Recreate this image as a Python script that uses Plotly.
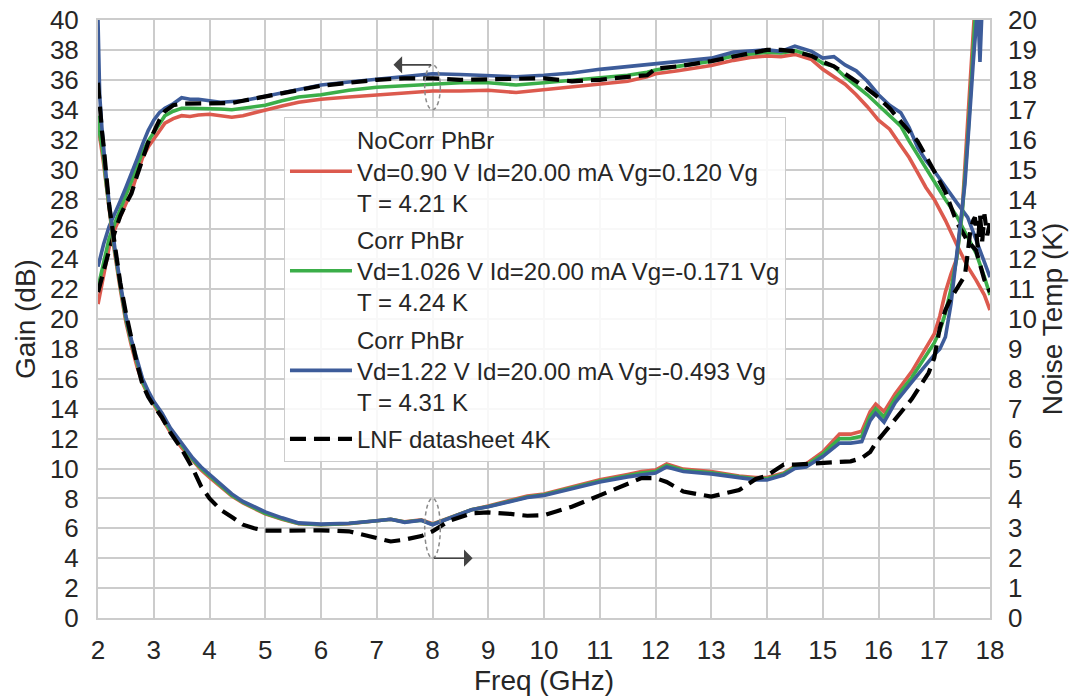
import plotly.graph_objects as go

# ---------------- data ----------------
freq_gain = [2.0, 2.1, 2.2, 2.3, 2.4, 2.5, 2.6, 2.7, 2.8, 2.9, 3.0, 3.1, 3.2, 3.35, 3.5,
             3.65, 3.8, 4.0, 4.2, 4.4, 4.6, 4.8, 5.0, 5.3, 5.6, 6.0, 6.5, 7.0, 7.5, 8.0,
             8.5, 9.0, 9.5, 10.0, 10.5, 11.0, 11.5, 11.85, 12.0, 12.4, 13.0, 13.4, 13.7,
             14.0, 14.25, 14.5, 14.8, 15.0, 15.2, 15.4, 15.6, 15.8, 16.0, 16.2, 16.4,
             16.55, 16.7, 16.85, 17.0, 17.2, 17.4, 17.6, 17.75, 17.9, 18.0]

gain_nocorr = [21.0, 23.0, 24.8, 26.0, 26.9, 27.7, 28.5, 29.6, 30.8, 31.5, 32.0, 32.6, 33.1,
               33.4, 33.6, 33.55, 33.65, 33.7, 33.6, 33.5, 33.6, 33.8, 34.0, 34.25, 34.5,
               34.7, 34.85, 35.0, 35.1, 35.25, 35.25, 35.3, 35.15, 35.35, 35.5, 35.7, 35.9,
               36.2, 36.4, 36.6, 36.95, 37.3, 37.5, 37.6, 37.55, 37.7, 37.35, 36.7, 36.2,
               35.7, 35.0, 34.2, 33.3, 32.7, 31.6, 30.8, 29.8, 28.8, 28.0, 26.6, 25.0, 23.5,
               22.6, 21.6, 20.6]

gain_corr1 = [22.1, 23.9, 25.4, 26.4, 27.3, 28.2, 29.2, 30.2, 31.2, 31.9, 32.5, 33.1, 33.6,
              33.9, 34.1, 34.1, 34.1, 34.1, 34.05, 34.0, 34.1, 34.2, 34.3, 34.6, 34.85,
              35.0, 35.3, 35.5, 35.6, 35.75, 35.8, 35.8, 35.65, 35.8, 35.95, 36.1, 36.3,
              36.5, 36.65, 36.9, 37.25, 37.6, 37.75, 37.85, 37.8, 37.95, 37.6, 37.1, 36.9,
              36.2, 35.6, 35.0, 34.3, 33.6, 32.9, 31.9, 31.0, 30.0, 29.2, 28.0, 26.9, 25.5,
              24.4, 22.8, 21.6]

gain_corr2 = [23.5, 25.0, 26.2, 27.0, 27.9, 28.8, 29.7, 30.7, 31.7, 32.6, 33.3, 33.8, 34.1,
              34.4, 34.8, 34.7, 34.7, 34.6, 34.5, 34.55, 34.6, 34.75, 34.9, 35.15, 35.4,
              35.65, 35.85, 36.05, 36.25, 36.4, 36.35, 36.25, 36.2, 36.3, 36.45, 36.7, 36.9,
              37.0, 37.05, 37.25, 37.45, 37.85, 37.95, 38.0, 37.9, 38.25, 37.9, 37.45, 37.55,
              37.0, 36.6, 35.9, 35.0, 34.3, 33.8, 32.8, 31.5, 30.6, 29.9, 28.8, 27.8, 26.8,
              25.3, 23.9, 22.8]

gain_lnf = [21.8, 23.3, 24.6, 25.8, 26.9, 27.7, 28.4, 29.6, 30.8, 31.8, 32.5, 33.3, 33.9,
            34.3, 34.4, 34.4, 34.4, 34.4, 34.4, 34.45, 34.6, 34.75, 34.9, 35.1, 35.35, 35.6,
            35.8, 36.0, 36.1, 36.1, 36.0, 36.05, 36.1, 36.1, 35.9, 36.0, 36.2, 36.3, 36.75,
            36.9, 37.25, 37.55, 37.8, 38.0, 38.0, 37.9, 37.6, 37.2, 36.9, 36.4, 35.9, 35.4,
            34.8, 34.1, 33.2, 32.5, 31.9, 30.9, 29.9, 28.5, 26.5, 25.2, 24.6, 22.6, 21.8]

freq_noise = [2.0, 2.03, 2.07, 2.1, 2.15, 2.2, 2.3, 2.4, 2.5, 2.6, 2.7, 2.8, 2.9, 3.0, 3.15,
              3.3, 3.5, 3.7, 3.85, 4.0, 4.2, 4.4, 4.6, 4.8, 5.0, 5.3, 5.6, 6.0, 6.5, 7.0,
              7.25, 7.5, 7.8, 8.0, 8.3, 8.7, 9.0, 9.4, 9.7, 10.0, 10.5, 11.0, 11.5, 11.75,
              12.0, 12.2, 12.5, 13.0, 13.5, 13.8, 14.0, 14.3, 14.5, 14.7, 15.0, 15.3, 15.5,
              15.7, 15.85, 15.95, 16.1, 16.3, 16.6, 16.9, 17.0, 17.1, 17.2, 17.3, 17.4, 17.5,
              17.55, 17.6, 17.65, 17.7, 17.73, 17.78, 17.82, 17.86, 17.9, 17.95, 18.0]

noise_nocorr = [16.5, 16.0, 15.6, 15.2, 14.4, 13.6, 12.2, 11.0, 9.9, 9.1, 8.4, 7.85, 7.45,
                7.15, 6.7, 6.2, 5.7, 5.25, 4.95, 4.7, 4.38, 4.08, 3.85, 3.66, 3.48, 3.3, 3.15,
                3.12, 3.15, 3.25, 3.3, 3.22, 3.28, 3.15, 3.35, 3.62, 3.75, 3.95, 4.08, 4.15,
                4.38, 4.62, 4.8, 4.9, 4.95, 5.15, 4.98, 4.9, 4.75, 4.7, 4.7, 4.85, 5.08, 5.15,
                5.55, 6.15, 6.15, 6.25, 6.9, 7.15, 6.9, 7.5, 8.25, 9.2, 9.5, 10.1, 10.9, 11.5,
                12.0, 13.6, 15.1, 16.8, 18.3, 19.6, 20.5]

noise_corr1 = [16.8, 16.2, 15.8, 15.4, 14.5, 13.7, 12.3, 11.1, 10.0, 9.2, 8.5, 7.9, 7.5, 7.2,
               6.75, 6.28, 5.78, 5.3, 5.0, 4.75, 4.4, 4.1, 3.87, 3.68, 3.5, 3.32, 3.16, 3.12,
               3.16, 3.25, 3.3, 3.21, 3.27, 3.13, 3.34, 3.62, 3.73, 3.92, 4.05, 4.12, 4.35,
               4.58, 4.76, 4.85, 4.9, 5.1, 4.94, 4.86, 4.72, 4.66, 4.66, 4.82, 5.04, 5.1,
               5.48, 6.0, 6.0, 6.08, 6.75, 7.0, 6.72, 7.35, 8.05, 8.95, 9.2, 9.6, 10.2, 11.0,
               12.0, 13.5, 14.6, 16.0, 17.5, 19.0, 20.0, 20.5]

noise_corr2 = [20.0, 17.5, 16.4, 15.6, 14.7, 13.9, 12.4, 11.2, 10.1, 9.3, 8.6, 8.0, 7.6, 7.25,
               6.85, 6.35, 5.85, 5.35, 5.05, 4.8, 4.45, 4.15, 3.9, 3.72, 3.55, 3.35, 3.18,
               3.14, 3.17, 3.25, 3.3, 3.2, 3.27, 3.12, 3.33, 3.62, 3.72, 3.9, 4.03, 4.1, 4.32,
               4.55, 4.72, 4.8, 4.85, 5.05, 4.9, 4.82, 4.68, 4.62, 4.62, 4.78, 5.0, 5.05, 5.4,
               5.85, 5.85, 5.9, 6.6, 6.85, 6.55, 7.2, 7.9, 8.6, 8.8, 9.0, 9.4, 10.5, 12.0,
               13.7, 14.5, 15.7, 17.2, 18.6, 19.4, 20.5, 18.6, 20.5]

noise_lnf = [17.9, 17.0, 16.3, 15.8, 14.8, 13.8, 12.5, 11.2, 10.2, 9.3, 8.5, 7.8, 7.4, 7.1,
             6.7, 6.2, 5.65, 5.0, 4.4, 4.0, 3.62, 3.38, 3.12, 3.0, 2.92, 2.92, 2.93, 2.93,
             2.9, 2.68, 2.56, 2.62, 2.74, 2.9, 3.25, 3.5, 3.53, 3.48, 3.42, 3.44, 3.72, 4.1,
             4.5, 4.68, 4.68, 4.55, 4.23, 4.06, 4.28, 4.65, 4.76, 5.13, 5.13, 5.15, 5.18,
             5.22, 5.24, 5.35, 5.55, 5.85, 6.2, 6.65, 7.33, 8.2, 8.7, 9.7, 10.3, 10.7, 11.0,
             11.3, 11.45, 12.2, 13.0, 13.3, 13.4, 12.4, 13.5, 12.6, 13.5, 12.8, 13.2]

series_names = [
    "NoCorr PhBr<br>Vd=0.90 V Id=20.00 mA Vg=0.120 Vg<br>T = 4.21 K",
    "Corr PhBr<br>Vd=1.026 V Id=20.00 mA Vg=-0.171 Vg<br>T = 4.24 K",
    "Corr PhBr<br>Vd=1.22 V Id=20.00 mA Vg=-0.493 Vg<br>T = 4.31 K",
    "LNF datasheet 4K",
]
series_gain = [gain_nocorr, gain_corr1, gain_corr2, gain_lnf]
series_noise = [noise_nocorr, noise_corr1, noise_corr2, noise_lnf]
colors = ["#dc5a4e", "#3bae49", "#3d5c9a", "#000000"]

x_ticks = list(range(2, 19))
gain_ticks = list(range(0, 41, 2))
noise_ticks = list(range(0, 21))

# ---------------- figure ----------------
FONT = "Liberation Sans, Arial, sans-serif"
TXT = "#262626"
GRID = "#cccccc"
TICK = 26
TITLE = 28

fig = go.Figure()
for i, (name, g, c) in enumerate(zip(series_names, series_gain, colors)):
    dashed = (c == "#000000")
    fig.add_trace(go.Scatter(
        x=freq_gain[:len(g)], y=g, mode="lines", name=name,
        legendgroup=f"g{i}", showlegend=True,
        line=dict(color=c, width=4.2 if dashed else 3.6,
                  dash="16px,8px" if dashed else "solid"),
        yaxis="y"))
for i, (name, n, c) in enumerate(zip(series_names, series_noise, colors)):
    dashed = (c == "#000000")
    fig.add_trace(go.Scatter(
        x=freq_noise[:len(n)], y=n, mode="lines", name=name,
        legendgroup=f"g{i}", showlegend=False,
        line=dict(color=c, width=4.2 if dashed else 3.6,
                  dash="16px,8px" if dashed else "solid"),
        yaxis="y2"))

# ellipses + arrows (axis indicators)
fig.add_shape(type="circle", xref="x", yref="y", x0=7.86, x1=8.14, y0=34.0, y1=37.0,
              line=dict(color="#8a8a8a", width=1.5, dash="4px,3px"))
fig.add_shape(type="circle", xref="x", yref="y2", x0=7.86, x1=8.14, y0=2.0, y1=4.0,
              line=dict(color="#8a8a8a", width=1.5, dash="4px,3px"))
fig.add_annotation(x=7.3, y=37.0, ax=8.0, ay=37.0, xref="x", yref="y", axref="x", ayref="y",
                   showarrow=True, arrowhead=1, arrowsize=1.8, arrowwidth=1.6,
                   arrowcolor="#444444", text="")
fig.add_annotation(x=8.72, y=2.0, ax=8.0, ay=2.0, xref="x", yref="y2", axref="x", ayref="y2",
                   showarrow=True, arrowhead=1, arrowsize=1.8, arrowwidth=1.6,
                   arrowcolor="#444444", text="")

fig.update_layout(
    width=1080, height=700,
    margin=dict(l=98, r=90, t=20, b=82, autoexpand=False),
    paper_bgcolor="white", plot_bgcolor="white",
    font=dict(family=FONT, size=TICK, color=TXT),
    showlegend=True,
    legend=dict(x=0.2085, y=0.838, xanchor="left", yanchor="top",
                bgcolor="rgba(255,255,255,0.85)", bordercolor=GRID, borderwidth=1,
                font=dict(family=FONT, size=24, color=TXT),
                tracegroupgap=3, itemwidth=62, traceorder="grouped"),
    xaxis=dict(range=[2, 18], tickmode="array", tickvals=x_ticks,
               ticktext=[str(v) for v in x_ticks], automargin=False,
               showgrid=True, gridcolor=GRID, gridwidth=2,
               showline=True, linecolor=GRID, linewidth=2, mirror=True,
               zeroline=False, ticks="", ticklabelstandoff=8,
               tickfont=dict(size=TICK, color=TXT),
               title=dict(text="Freq (GHz)", font=dict(size=TITLE, color=TXT), standoff=2)),
    yaxis=dict(range=[0, 40], tickmode="array", tickvals=gain_ticks,
               ticktext=[str(v) for v in gain_ticks], automargin=False,
               showgrid=True, gridcolor=GRID, gridwidth=2,
               showline=True, linecolor=GRID, linewidth=2, mirror=True,
               zeroline=False, ticks="", ticklabelstandoff=12,
               tickfont=dict(size=TICK, color=TXT),
               title=dict(text="Gain (dB)", font=dict(size=TITLE, color=TXT), standoff=6)),
    yaxis2=dict(range=[0, 20], tickmode="array", tickvals=noise_ticks,
                ticktext=[str(v) for v in noise_ticks], automargin=False,
                overlaying="y", side="right", showgrid=False, zeroline=False,
                showline=False, ticks="", ticklabelstandoff=17,
                tickfont=dict(size=TICK, color=TXT),
                title=dict(text="Noise Temp (K)", font=dict(size=TITLE, color=TXT), standoff=5)),
)

fig.write_html("out.html",
               config={"displayModeBar": False},
               post_script="document.body.style.margin='0px';document.body.style.padding='0px';")
